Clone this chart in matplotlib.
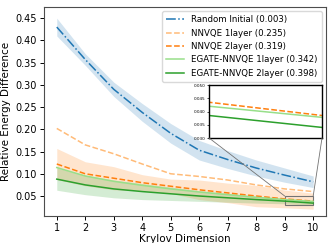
import numpy as np
import matplotlib
matplotlib.use("Agg")
import matplotlib.pyplot as plt
from matplotlib.patches import Rectangle, ConnectionPatch

# krylov dimension
k = [1, 2, 3, 4, 5, 6, 7, 8, 9, 10]

random_mean = [0.430, 0.357, 0.290, 0.238, 0.191, 0.153, 0.132, 0.113, 0.097, 0.082]
random_std = [0.020, 0.013, 0.016, 0.020, 0.022, 0.022, 0.020, 0.018, 0.016, 0.013]

nnvqe1_mean = [0.202, 0.165, 0.145, 0.122, 0.100, 0.094, 0.086, 0.075, 0.066, 0.060]

nnvqe2_mean = [0.122, 0.100, 0.090, 0.080, 0.072, 0.064, 0.057, 0.050, 0.0435, 0.0385]
nnvqe2_std = [0.035, 0.027, 0.026, 0.018, 0.016, 0.022, 0.022, 0.024, 0.020, 0.018]

egate1_mean = [0.114, 0.095, 0.083, 0.074, 0.066, 0.059, 0.053, 0.047, 0.042, 0.0378]

egate2_mean = [0.088, 0.075, 0.066, 0.060, 0.055, 0.050, 0.046, 0.042, 0.0385, 0.034]
egate2_std = [0.025, 0.022, 0.020, 0.018, 0.015, 0.012, 0.010, 0.008, 0.006, 0.005]

labels = ["Random Initial (0.003)", "NNVQE 1layer (0.235)", "NNVQE 2layer (0.319)",
          "EGATE-NNVQE 1layer (0.342)", "EGATE-NNVQE 2layer (0.398)"]
yticks = [0.05, 0.10, 0.15, 0.20, 0.25, 0.30, 0.35, 0.40, 0.45]

blue, orange, lorange = "#1f77b4", "#ff7f0e", "#ffbb78"
green, lgreen = "#2ca02c", "#98df8a"

fig = plt.figure(figsize=(3.33, 2.43), dpi=100)
ax = fig.add_axes([0.132, 0.111, 0.847, 0.860])


def band(a, m, s, c):
    m, s = np.array(m), np.array(s)
    a.fill_between(k, m - s, m + s, color=c, alpha=0.2, lw=0)


def lines(a):
    a.plot(k, random_mean, "-.", color=blue, lw=1.1, label=labels[0])
    a.plot(k, nnvqe1_mean, "--", color=lorange, lw=1.1, label=labels[1])
    a.plot(k, nnvqe2_mean, "--", color=orange, lw=1.1, label=labels[2])
    a.plot(k, egate1_mean, "-", color=lgreen, lw=1.1, label=labels[3])
    a.plot(k, egate2_mean, "-", color=green, lw=1.1, label=labels[4])


band(ax, random_mean, random_std, blue)
band(ax, nnvqe2_mean, nnvqe2_std, orange)
band(ax, egate2_mean, egate2_std, green)
lines(ax)

ax.set_xticks(k)
ax.set_yticks(yticks)
ax.set_ylim(0.005, 0.475)
ax.set_xlim(0.55, 10.45)
ax.yaxis.set_major_formatter(plt.FormatStrFormatter("%.2f"))
ax.tick_params(labelsize=7, length=3, width=0.7, pad=2)
ax.set_xlabel("Krylov Dimension", fontsize=7.5, labelpad=1)
ax.set_ylabel("Relative Energy Difference", fontsize=7.5, labelpad=3)
for sp in ax.spines.values():
    sp.set_color("0.3")
    sp.set_linewidth(0.8)
ax.legend(loc="upper right", fontsize=6.25, framealpha=1, edgecolor="0.85",
          handlelength=2.0, handletextpad=0.9, borderpad=0.45, labelspacing=0.5)

# inset zoom
axins = fig.add_axes([0.628, 0.432, 0.339, 0.218])
lines(axins)
axins.set_xlim(9, 10)
axins.set_ylim(0.030, 0.050)
axins.set_xticks([])
axins.set_yticks([0.030, 0.035, 0.040, 0.045, 0.050])
axins.tick_params(labelsize=3, length=1.5, width=0.5, pad=1)
for sp in axins.spines.values():
    sp.set_linewidth(1.0)

ax.add_patch(Rectangle((9, 0.030), 1, 0.020, fill=False, edgecolor="0.45", lw=0.8))
for xa, xb in [(0, 9), (1, 10)]:
    con = ConnectionPatch(xyA=(xa, 0), coordsA=axins.transAxes,
                          xyB=(xb, 0.050), coordsB=ax.transData,
                          color="0.45", lw=0.6)
    fig.add_artist(con)

fig.savefig("out.png", dpi=100)
